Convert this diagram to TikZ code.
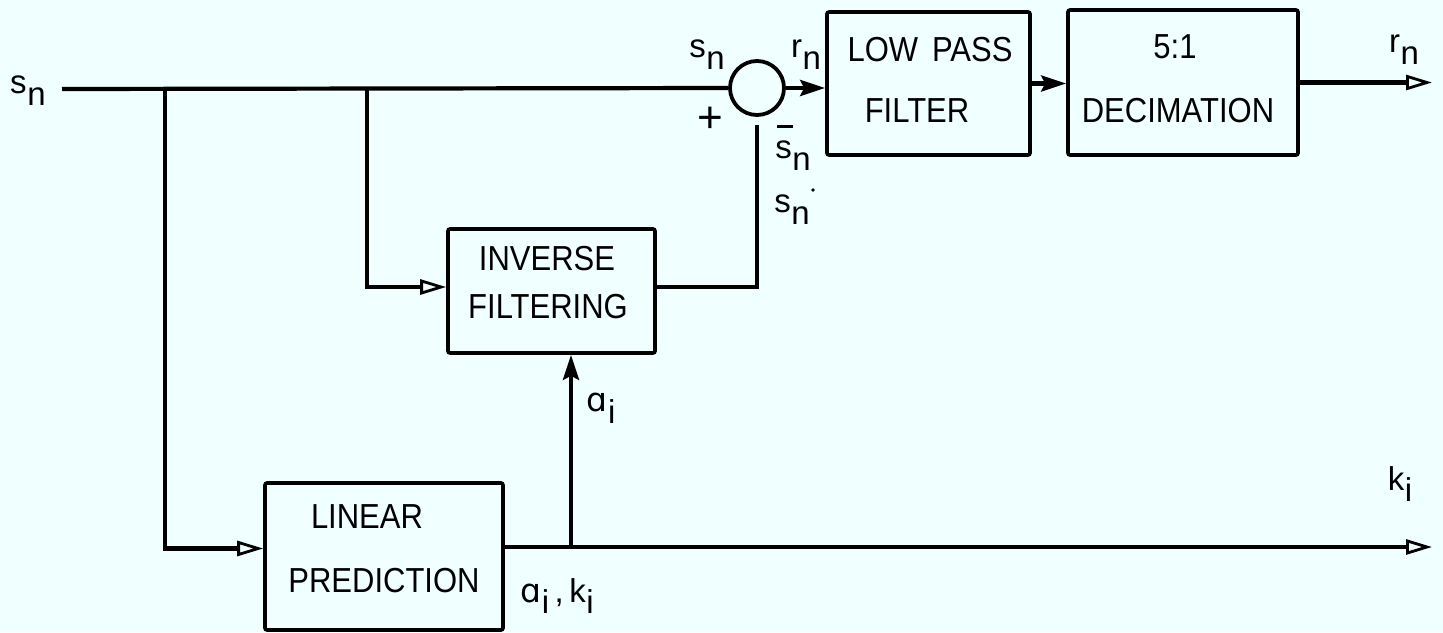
\documentclass[tikz,border=0pt]{standalone}
\usepackage{fontspec}
\setmainfont{Liberation Sans}
\newfontfamily\alphafont{DejaVu Sans}
\usetikzlibrary{arrows.meta}
\definecolor{paper}{RGB}{240,255,255}
\newcommand\sig[2]{#1\kern0.02em\raisebox{-0.36em}{#2}}
\newcommand\tall[1]{\scalebox{1}[1.12]{#1}}
\begin{document}
\begin{tikzpicture}[x=1pt,y=-1pt,line width=4.2pt,
  blk/.style={draw,line width=3.6pt,rounded corners=2pt,inner sep=0pt},
  hollow/.style={-{Triangle[open,length=26pt,width=15pt,line width=2.8pt]}},
  solidarr/.style={-{Stealth[length=25pt,width=16pt,inset=4pt]}},
  lbl/.style={font=\fontsize{33}{35}\selectfont,inner sep=0pt},
  txt/.style={font=\fontsize{31}{33}\selectfont,inner sep=0pt}]
\fill[paper] (0,0) rectangle (1443,632);
\useasboundingbox (0,0) rectangle (1443,632);

% blocks
\node[blk,minimum width=207pt,minimum height=124pt] (inv) at (551.5,291) {};
\node[blk,minimum width=238pt,minimum height=147pt] (lp) at (384,556.5) {};
\node[blk,minimum width=203pt,minimum height=143pt] (lpf) at (928.5,83.5) {};
\node[blk,minimum width=230pt,minimum height=145pt] (dec) at (1183,82.5) {};
\node[draw,circle,line width=3.8pt,minimum size=54pt,inner sep=0pt] (sum) at (757,88) {};

% block texts
\node[txt] (tlow) at (930,50) {\tall{LOW\hspace{0.45em}PASS}};
\node[txt] (tfil) at (917,111) {\tall{FILTER}};
\node[txt] (tfive) at (1175,47) {\tall{5:1}};
\node[txt] (tdec) at (1178,111) {\tall{DECIMATION}};
\node[txt] (tinv) at (547,259) {\tall{INVERSE}};
\node[txt] (tfilt) at (548,307) {\tall{FILTERING}};
\node[txt] (tlin) at (367,517) {\tall{LINEAR}};
\node[txt] (tpred) at (384,581) {\tall{PREDICTION}};

% coordinates
\coordinate (in) at (62,89);
\coordinate (j1) at (165,89);
\coordinate (j2) at (367,89);
\coordinate (atap) at (571,547);
\coordinate (kend) at (1432,547);
\coordinate (rend) at (1432,82.5);

% connectors
\draw (in) -- (sum.west);
\draw[hollow] (j1) |- ([yshift=8pt]lp.west);
\draw[hollow] (j2) |- ([yshift=4pt]inv.west);
\draw ([yshift=4pt]inv.east) -| ([yshift=-8pt]sum.south);
\draw[hollow] ([yshift=9.5pt]lp.east) -- (kend);
\draw[solidarr] (atap) -- (inv.south -| atap);
\draw[solidarr] (sum.east) -- (lpf.west |- sum.east);
\draw[solidarr] (lpf.east) -- (dec.west |- lpf.east);
\draw[hollow] (dec.east) -- (rend);

% labels
\node[lbl] (lsin) at (28,91) {\sig{s}{n}};
\node[lbl] (lsa) at (707,55) {\sig{s}{n}};
\node[lbl,font=\fontsize{44}{46}\selectfont] (lplus) at (710,120) {+};
\node[lbl] (lminus) at (785,126) {\rule{16pt}{3pt}};
\node[lbl] (lsb) at (793,156) {\sig{s}{n}};
\node[lbl] (lsc) at (792,210) {\sig{s}{n}};
\fill (813,190) circle (1.8pt);
\node[lbl] (lra) at (806,55) {\sig{r}{n}};
\node[lbl] (lrb) at (1404,50) {\sig{r}{n}};
\node[lbl] (lai) at (601,408) {\sig{{\alphafont ɑ}}{i}};
\node[lbl] (laik) at (557,596) {\sig{{\alphafont ɑ}}{i}\,,\,\sig{k}{i}};
\node[lbl] (lki) at (1400,484) {\sig{k}{i}};
\end{tikzpicture}
\end{document}
